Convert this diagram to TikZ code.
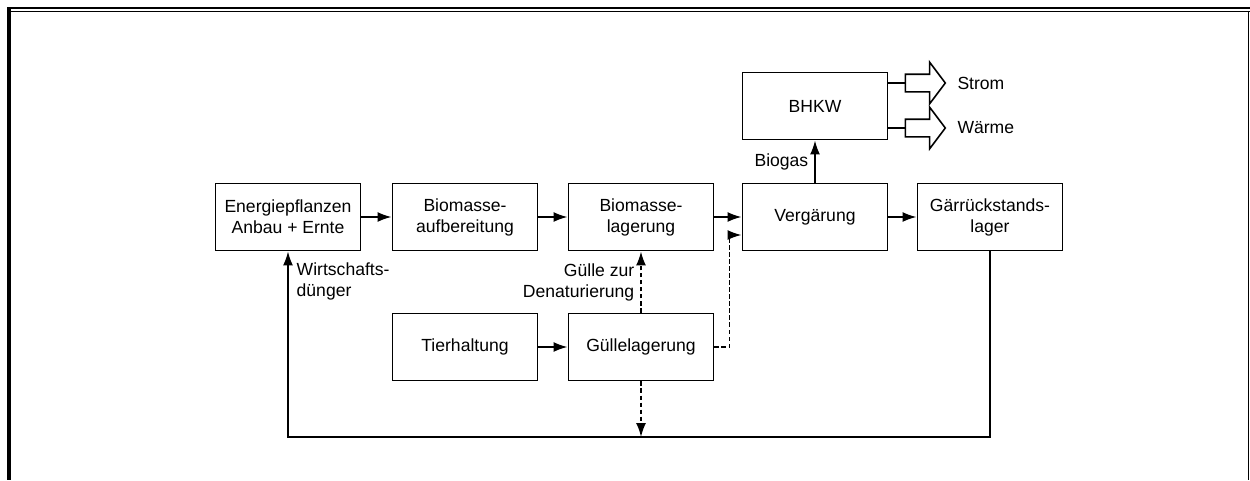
\documentclass[tikz,border=0pt]{standalone}
\usepackage{fontspec}
\setmainfont{Liberation Sans}
\usetikzlibrary{shapes,arrows,arrows.meta,positioning,calc}

\begin{document}
\begin{tikzpicture}[x=0.02cm, y=-0.02cm,
        font=\fontsize{10}{12}\selectfont,
        box/.style={rectangle, draw=black, line width=1.1pt, minimum width=2.9cm, minimum height=1.34cm, align=center},
        arrow/.style={-{Latex[length=2.8mm,width=2mm]}, line width=1pt},
        dasharrow/.style={-{Latex[length=2.8mm,width=2mm]}, line width=1pt, dash pattern=on 2.5pt off 1.5pt},
        outarrow/.style={single arrow, draw=black, line width=0.9pt, minimum height=0.8cm, single arrow head extend=0.24cm, single arrow tip angle=106, inner sep=0pt, inner ysep=0.16cm}]

        \useasboundingbox (0,0) rectangle (1250,480);

        % Frame
        \draw[line width=1.3pt] (7,8) -- (1250,8);
        \draw[line width=0.8pt] (11,11.5) -- (1250,11.5);
        \draw[line width=2.3pt] (9,7) -- (9,480);
        \draw[line width=0.7pt] (1248.5,11) -- (1248.5,480);

        % Main line
        \node[box] (ENERGIE) at (288,217) {Energiepflanzen\\Anbau + Ernte};
        \node[box] (AUFB) at (465,217) {Biomasse-\\aufbereitung};
        \node[box] (LAGER) at (641,217) {Biomasse-\\lagerung};
        \node[box] (VERG) at (815,217) {Verg\"arung};
        \node[box] (GAERR) at (990,217) {G\"arr\"uckstands-\\lager};

        % BHKW
        \node[box] (BHKW) at (815,106) {BHKW};
        \node[outarrow] (STROM) at (922,83) {};
        \node[outarrow] (WAERME) at (922,128) {};
        \node[right=0.1cm of STROM] {Strom};
        \node[right=0.1cm of WAERME] {W\"arme};

        % Animal line
        \node[box] (TIER) at (465,347) {Tierhaltung};
        \node[box] (GUELLE) at (641,347) {G\"ullelagerung};
        \coordinate (RET) at (641,437);

        % Paths
        \draw[arrow] (ENERGIE) -- (AUFB);
        \draw[arrow] (AUFB) -- (LAGER);
        \draw[arrow] (LAGER) -- (VERG);
        \draw[arrow] (VERG) -- (GAERR);
        \draw[arrow] (VERG) -- node[midway, left]{Biogas} (BHKW);
        \draw[line width=0.9pt] (BHKW.east |- STROM.tail) -- (STROM.tail);
        \draw[line width=0.9pt] (BHKW.east |- WAERME.tail) -- (WAERME.tail);
        \draw[arrow] (TIER) -- (GUELLE);
        \draw[dasharrow] (GUELLE) -- node[midway, left, align=right]{G\"ulle zur\\Denaturierung} (LAGER);
        \draw[dasharrow] (GUELLE.east) -- ++(15,0) |- ($(VERG.west)+(0,18)$);
        \draw[dasharrow] (GUELLE) -- (RET);
        \draw[arrow, line width=0.85pt] (GAERR.south) |- (RET) -| (ENERGIE.south);
        \node[align=left, below right=0.1cm and 0.05cm of ENERGIE.south] (WD) {Wirtschafts-\\d\"unger};

    \end{tikzpicture}
\end{document}
